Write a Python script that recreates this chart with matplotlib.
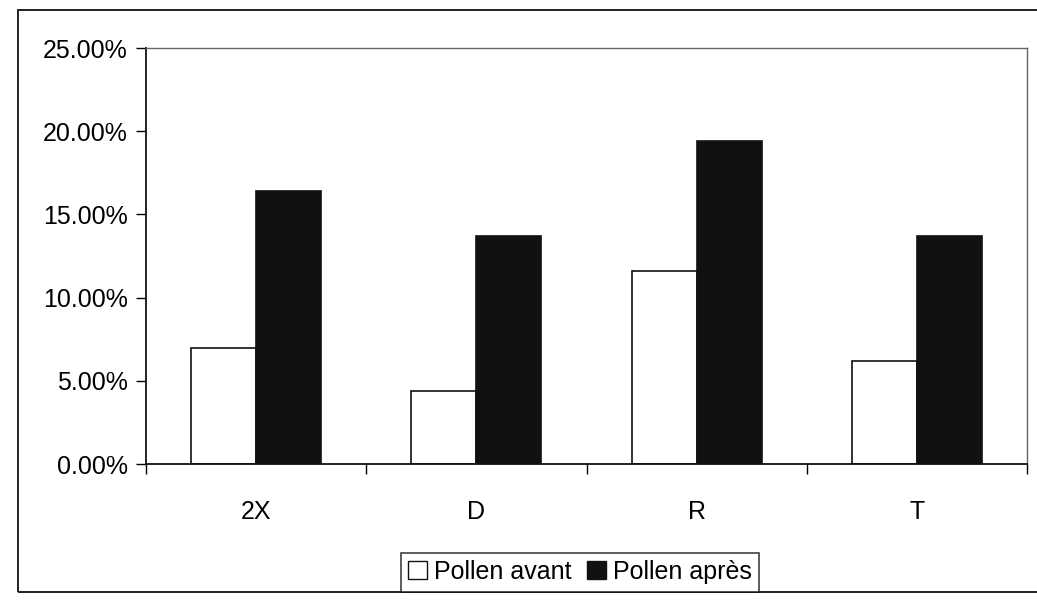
import matplotlib
matplotlib.use("Agg")
import matplotlib.pyplot as plt
from matplotlib.patches import Rectangle, Patch
from matplotlib.ticker import FuncFormatter
import numpy as np

plt.rcParams['font.family'] = ['Liberation Sans', 'DejaVu Sans']

categories = ["2X", "D", "R", "T"]
pollen_avant = [7.0, 4.4, 11.6, 6.2]
pollen_apres = [16.4, 13.7, 19.4, 13.7]
series_labels = ["Pollen avant", "Pollen après"]
yticks = [0, 5, 10, 15, 20, 25]

W, H = 1037, 601
fig = plt.figure(figsize=(W / 100, H / 100), dpi=100)
fig.patch.set_facecolor("white")

# outer chart border
fig.patches.append(Rectangle((18 / W, 1 - 592 / H), (W + 10 - 18) / W, (592 - 10) / H,
                             transform=fig.transFigure, fill=False,
                             edgecolor="#222222", linewidth=1.4, clip_on=False))

ax = fig.add_axes([146 / W, 1 - 464 / H, (1027 - 146) / W, (464 - 48) / H])

x = np.arange(len(categories))
bw = 0.295
ax.bar(x - bw / 2, pollen_avant, width=bw, color="white", edgecolor="#111111",
       linewidth=1.2, label=series_labels[0])
ax.bar(x + bw / 2, pollen_apres, width=bw, color="#111111", edgecolor="#111111",
       linewidth=1.2, label=series_labels[1])

ax.set_xlim(-0.5, len(categories) - 0.5)
ax.set_ylim(0, 25)
ax.set_yticks(yticks)
ax.yaxis.set_major_formatter(FuncFormatter(lambda v, p: f"{v:.2f}%"))
ax.set_xticks(x)
ax.set_xticklabels(categories)
ax.set_xticks(np.arange(-0.5, len(categories), 1.0), minor=True)
ax.tick_params(axis="x", which="major", length=0, pad=26, labelsize=18)
ax.tick_params(axis="x", which="minor", length=7, width=1.0, direction="out")
ax.tick_params(axis="y", length=7, width=1.0, direction="out", pad=6, labelsize=18)

for s in ["left", "bottom"]:
    ax.spines[s].set_color("#111111")
    ax.spines[s].set_linewidth(1.3)
for s in ["top", "right"]:
    ax.spines[s].set_color("#666666")
    ax.spines[s].set_linewidth(1.0)

handles = [Patch(facecolor="white", edgecolor="#111111", linewidth=1.0, label=series_labels[0]),
           Patch(facecolor="#111111", edgecolor="#111111", linewidth=1.0, label=series_labels[1])]
leg = fig.legend(handles=handles, loc="center", bbox_to_anchor=(580 / W, 1 - 572 / H),
                 ncol=2, frameon=True, fancybox=False, fontsize=18,
                 handlelength=0.75, handleheight=0.75, handletextpad=0.3,
                 columnspacing=0.6, borderpad=0.3, borderaxespad=0)
leg.get_frame().set_edgecolor("#111111")
leg.get_frame().set_linewidth(1.2)

fig.savefig("out.png", dpi=100, facecolor="white")
